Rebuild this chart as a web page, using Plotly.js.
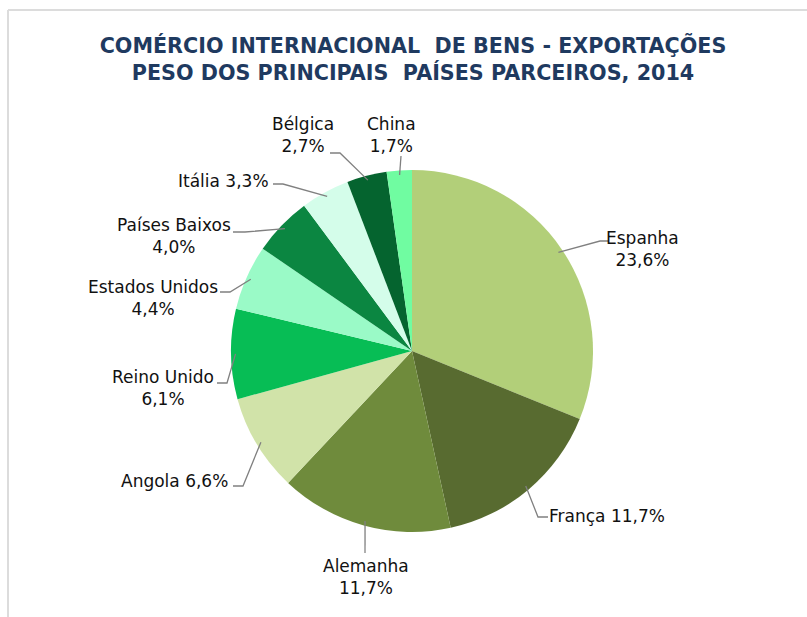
<!DOCTYPE html>
<html>
<head>
<meta charset="utf-8">
<script src="https://cdn.plot.ly/plotly-3.0.1.min.js"></script>
<style>html,body{margin:0;padding:0;background:#fff;}#chart{width:807px;height:617px;}</style>
</head>
<body>
<div id="chart"></div>
<script>
// ---- data ----
const countries = ['Espanha','França','Alemanha','Angola','Reino Unido','Estados Unidos','Países Baixos','Itália','Bélgica','China'];
const shares = [23.6, 11.7, 11.7, 6.6, 6.1, 4.4, 4.0, 3.3, 2.7, 1.7];
const sliceColors = ['#b2cf79','#586b30','#6f8b3c','#d1e3a9','#07bd55','#9afac7','#0b8641','#d4fdea','#05642f','#70fca1'];
const titleLines = ['COMÉRCIO INTERNACIONAL\u00a0 DE BENS - EXPORTAÇÕES', 'PESO DOS PRINCIPAIS\u00a0 PAÍSES PARCEIROS, 2014'];

// ---- layout config (positions in pixels) ----
const W = 807, H = 617;
const CX = 412, CY = 351, R = 181;
// label centre, single line?, leader line points (elbow, end) near the text
const labelCfg = [
  {x: 642, y: 249, one: false, pts: [[600,241],[608,241]]},
  {x: 607, y: 516, one: true,  pts: [[538,517],[548,517]]},
  {x: 366, y: 577, one: false, pts: [[365,553]]},
  {x: 174, y: 481, one: true,  pts: [[243,486],[233,486]]},
  {x: 163, y: 388, one: false, pts: [[227,383],[217,383]]},
  {x: 153, y: 298, one: false, pts: [[230,292],[220,292]]},
  {x: 174, y: 236, one: false, pts: [[245,232],[233,232]]},
  {x: 223, y: 181, one: true,  pts: [[283,184],[273,184]]},
  {x: 303, y: 135, one: false, pts: [[340,153],[330,153]]},
  {x: 391, y: 135, one: false, pts: [[401,156]]}
];

const px = x => x / W;
const py = y => 1 - y / H;
const fmt = v => v.toFixed(1).replace('.', ',') + '%';

const total = shares.reduce((a, b) => a + b, 0);
let cum = 0;
const annotations = [];
const shapes = [];
shares.forEach((v, i) => {
  const mid = (cum + v / 2) / total * 2 * Math.PI;
  cum += v;
  const r = R * 0.975;
  const ax = CX + r * Math.sin(mid), ay = CY - r * Math.cos(mid);
  const c = labelCfg[i];
  const txt = countries[i] + (c.one ? ' ' : '<br>') + fmt(v);
  annotations.push({
    text: txt, x: px(c.x), y: py(c.y), xref: 'paper', yref: 'paper',
    xanchor: 'center', yanchor: 'middle', showarrow: false, align: 'center',
    font: {family: 'DejaVu Sans', size: 17, color: '#111111'}
  });
  let path = 'M' + px(ax) + ',' + py(ay);
  c.pts.forEach(p => { path += ' L' + px(p[0]) + ',' + py(p[1]); });
  shapes.push({type: 'path', xref: 'paper', yref: 'paper', path: path,
    line: {color: '#808080', width: 1.3}});
});

// frame lines
shapes.push({type: 'line', xref: 'paper', yref: 'paper', x0: px(8), y0: py(10), x1: 1, y1: py(10), line: {color: '#dcdcdc', width: 2}});
shapes.push({type: 'line', xref: 'paper', yref: 'paper', x0: px(8), y0: py(10), x1: px(8), y1: 0, line: {color: '#dcdcdc', width: 2}});

const trace = {
  type: 'pie',
  labels: countries,
  values: shares,
  sort: false,
  direction: 'clockwise',
  rotation: 0,
  textinfo: 'none',
  hoverinfo: 'label+value',
  marker: {colors: sliceColors, line: {width: 0}},
  domain: {x: [px(CX - R), px(CX + R)], y: [py(CY + R), py(CY - R)]},
  showlegend: false
};

const layout = {
  width: W, height: H,
  margin: {l: 0, r: 0, t: 0, b: 0},
  paper_bgcolor: '#ffffff',
  showlegend: false,
  title: {
    text: titleLines.join('<br>'),
    x: px(413), xanchor: 'center', xref: 'paper',
    y: py(53), yanchor: 'middle', yref: 'container',
    font: {family: 'DejaVu Sans', size: 20.7, color: '#1f3a60', weight: 'bold'}
  },
  annotations: annotations,
  shapes: shapes
};

Plotly.newPlot('chart', [trace], layout, {displayModeBar: false, staticPlot: true});
</script>
</body>
</html>
